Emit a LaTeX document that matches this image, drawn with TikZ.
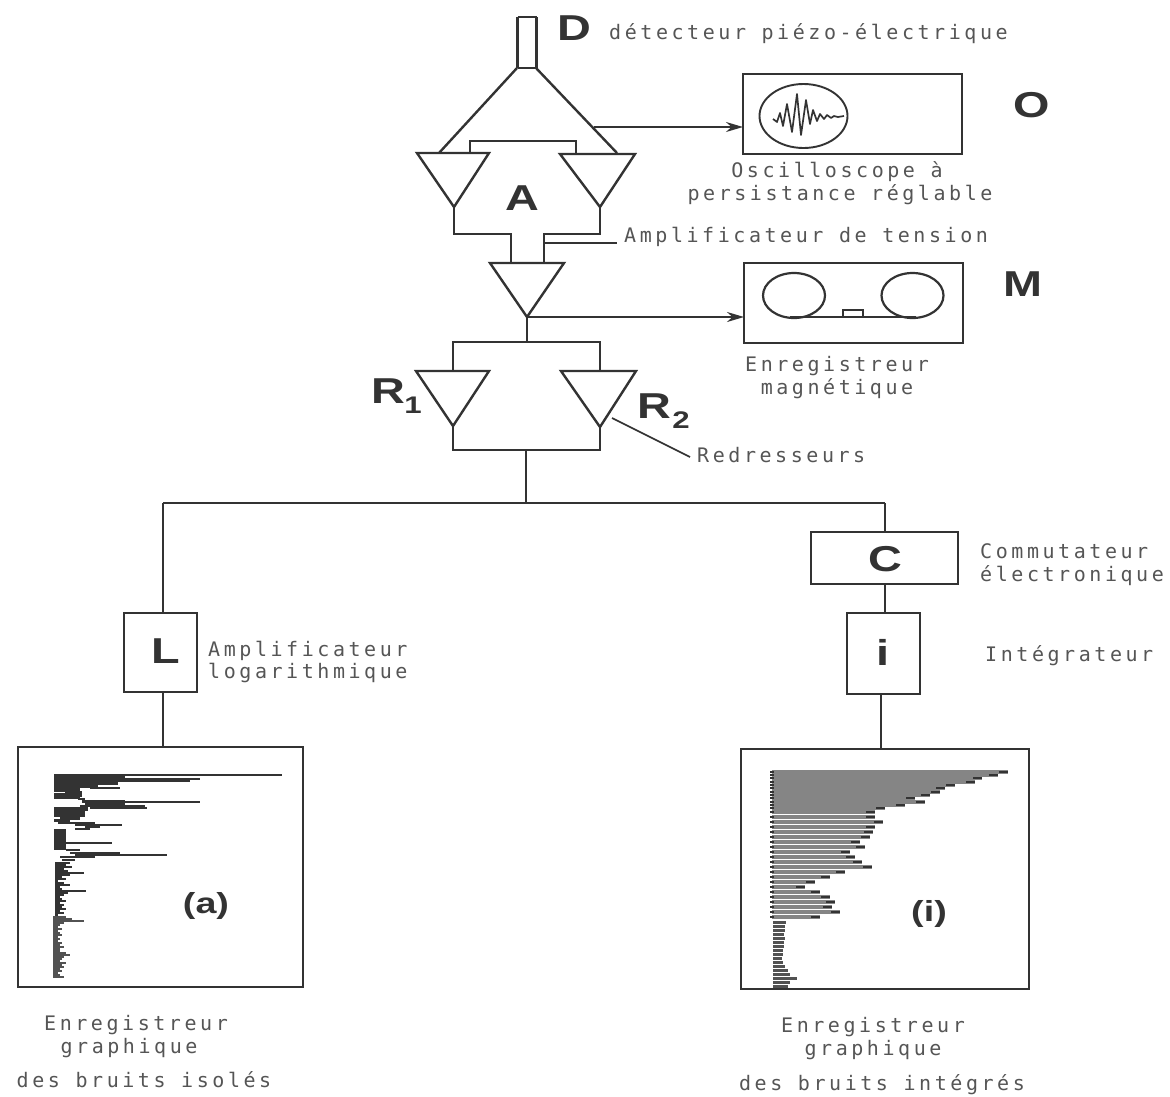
\documentclass[tikz,border=0pt]{standalone}
\usepackage{fontspec}
\usetikzlibrary{arrows.meta}
\newfontfamily\lblfont[LetterSpace=17.8]{DejaVu Sans Mono}
\newfontfamily\bigfont[FakeStretch=1.3,BoldFont={Liberation Sans Bold}]{Liberation Sans Bold}
\definecolor{ink}{HTML}{333333}
\definecolor{txt}{HTML}{555555}
\definecolor{barg}{HTML}{858585}
\tikzset{
  wire/.style={draw=ink,line width=2.4pt,line join=miter},
  thinw/.style={draw=ink,line width=1.7pt},
  arrowwire/.style={draw=ink,line width=2pt,-{Stealth[length=17pt,width=10pt]}},
  lbl/.style={text=txt,inner sep=0pt,font=\lblfont\fontsize{20}{22}\selectfont},
  big/.style={text=ink,inner sep=0pt,font=\bigfont\fontsize{#1}{#1}\selectfont},
  framebox/.style={draw=ink,line width=2.5pt,inner sep=0pt,outer sep=0pt,anchor=north west},
}
\begin{document}
\begin{tikzpicture}[x=1pt,y=-1pt]
\useasboundingbox (0,0) rectangle (1170,1096);
% --- junction coordinates
\coordinate (dl) at (517,68); \coordinate (dr) at (536,68);
\coordinate (t1a) at (417,153); \coordinate (t1b) at (489,153); \coordinate (t1c) at (454,207);
\coordinate (t2a) at (560,154); \coordinate (t2b) at (635,154); \coordinate (t2c) at (600,207);
\coordinate (t3a) at (490,263); \coordinate (t3b) at (564,263); \coordinate (t3c) at (527,317);
\coordinate (r1a) at (416,371); \coordinate (r1b) at (489,371); \coordinate (r1c) at (453,426);
\coordinate (r2a) at (561,371); \coordinate (r2b) at (636,371); \coordinate (r2c) at (600,427);
\coordinate (busmid) at (526,450);
\coordinate (bustop) at (526,503);
\coordinate (busl) at (163,503);
\coordinate (busr) at (885,503);
\coordinate (tap) at (594,127);
\coordinate (ampl) at (545,243);
\coordinate (ampr) at (617,243);
\coordinate (redra) at (612,418);
\coordinate (redrb) at (690,457);
% --- boxes
\node[framebox,minimum width=219pt,minimum height=80pt] (osc) at (743,74) {};
\node[framebox,minimum width=219pt,minimum height=80pt] (mag) at (744,263) {};
\node[framebox,minimum width=147pt,minimum height=52pt] (cbox) at (811,532) {};
\node[framebox,minimum width=73pt,minimum height=79pt] (lbox) at (124,613) {};
\node[framebox,minimum width=73pt,minimum height=81pt] (ibox) at (847,613) {};
\node[framebox,line width=2.9pt,minimum width=285pt,minimum height=240pt] (ploa) at (18,747) {};
\node[framebox,line width=2.9pt,minimum width=288pt,minimum height=240pt] (ploi) at (741,749) {};
% --- detector
\node[inner sep=0pt,outer sep=0pt,minimum width=19pt,minimum height=51pt,anchor=north] (det) at (527,17) {};
\draw[draw=ink,line width=3.4pt] (det.north west) -- (det.south west);
\draw[draw=ink,line width=3.4pt] (det.north east) -- (det.south east);
\draw[draw=ink,line width=1.6pt] (det.north west) -- (det.north east);
\draw[draw=ink,line width=2pt] (det.south west) -- (det.south east);
\draw[wire] (dl) -- (439,153);
\draw[wire] (dr) -- (617,153);
% --- triangles
\draw[wire] (t1a) -- (t1b) -- (t1c) -- cycle;
\draw[wire] (t2a) -- (t2b) -- (t2c) -- cycle;
\draw[wire] (t3a) -- (t3b) -- (t3c) -- cycle;
\draw[wire] (r1a) -- (r1b) -- (r1c) -- cycle;
\draw[wire] (r2a) -- (r2b) -- (r2c) -- cycle;
% --- wiring
\draw[wire] (470,153) |- (576,141) -- (576,154);
\draw[wire] (t1c) |- (511,234) -- (511,263);
\draw[wire] (t2c) |- (544,234) -- (544,263);
\draw[thinw] (ampl) -- (ampr);
\draw[arrowwire] (tap) -- (osc.west |- tap);
\draw[arrowwire] (t3c) -- (mag.west |- t3c);
\draw[wire] (t3c) -- (527,342);
\draw[wire] (r1a -| r1c) |- (527,342) -| (r2a -| r2c);
\draw[wire] (r1c) |- (busmid) -| (r2c);
\draw[wire] (busmid) -- (bustop);
\draw[wire] (busl) -- (busr);
\draw[wire] (busr) -- (cbox.north -| busr);
\draw[wire] (busl) -- (lbox.north -| busl);
\draw[wire] (cbox.south -| busr) -- (ibox.north -| busr);
\draw[wire] (lbox.south -| busl) -- (ploa.north -| busl);
\draw[wire] (ibox.south -| 881,0) -- (ploi.north -| 881,0);
\draw[thinw] (redra) -- (redrb);
% --- oscilloscope screen
\draw[draw=ink,line width=1.9pt] (803.5,116) ellipse [x radius=44,y radius=32];
\draw[draw=ink,line width=1.7pt,line join=round] (773,119) -- (777,122) -- (780,113) -- (783,126) -- (787,104) -- (792,132) -- (797,94) -- (801,135) -- (806,100) -- (810,124) -- (813,110) -- (817,121) -- (820,114) -- (824,119) -- (827,115) -- (831,118) -- (834,116) -- (838,117) -- (844,116);
% --- tape recorder
\draw[draw=ink,line width=2.2pt] (794,295.5) ellipse [x radius=31,y radius=22.5];
\draw[draw=ink,line width=2.2pt] (912.5,295.5) ellipse [x radius=31,y radius=22.5];
\draw[draw=ink,line width=2.2pt] (790,317) -- (916,317);
\draw[draw=ink,line width=1.6pt] (843,317) |- (863,310) -- (863,317);
% --- plot (a)
\foreach \y/\xs/\xe/\w in {775/54/282/2.5,777/54/125/3,779/54/200/2,781/54/190/2.5,783/54/118/3,785/54/98/3,787/54/97/2,788/90/120/2,790/54/80/3.4,793/65/82/3.4,795/54/82/3.4,797/54/80/3.4,799/78/85/2,801/82/125/2,802/82/200/2,804/85/125/3,806/80/145/2,808/90/147/2,809/54/88/3.4,812/54/85/3.4,815/54/85/3.4,818/60/80/3,820/54/70/3,823/58/95/2.6,825/75/122/2,827/85/100/2,829/75/90/2,831/54/66/3.2,834/54/66/3.2,837/54/66/3.2,840/54/66/3.2,843/54/112/2,845/54/66/3.2,848/54/66/3.2,850/66/80/1.5,853/70/120/1.5,855/75/167/2,857/60/95/2.4,860/62/75/2.4}
  \draw[draw=ink,line width=\w pt] (\xs,\y) -- (\xe,\y);
\foreach \y/\xe in {863/70,865/66,867/72,869/64,871/68,873/84,875/70,877/62,879/66,881/58,883/64,885/70,887/60,889/62,891/86,893/68,895/64,897/60,899/62,901/66,903/60,905/64,907/62,909/66,911/60,913/64,915/58}
  \draw[draw=ink,line width=2.1pt] (55,\y) -- (\xe,\y);
\foreach \y/\xe in {917/66,919/72,921/84,923/64,925/60,927/58,929/62,931/58,933/60,935/62,937/58,939/60,941/58,943/62,945/60,947/64,949/60,951/60,953/66,955/70,957/64,959/62,961/60,963/66,965/62,967/64,969/60,971/62,973/58,975/60,977/64}
  \draw[draw=ink!85,line width=2pt] (53,\y) -- (\xe,\y);
% --- plot (i)
\foreach \y/\xe in {772/1008,775/998,778/982,782/975,785/955,788/945,792/940,795/930,798/915,802/925,805/905,808/885,812/875,817/875,822/883,827/875,832/873,837/870,842/860,847/865,852/850,857/855,862/862,867/872,872/845,877/830,882/815,887/805,892/820,897/830,902/835,907/832,912/840,917/820}{
  \draw[draw=barg,line width=3.8pt] (772,\y) -- (\xe,\y);
  \draw[draw=ink,line width=2.8pt] (\xe-9,\y) -- (\xe,\y);
  \draw[draw=ink,line width=2.8pt] (770,\y) -- (774,\y);
}
\foreach \y/\xe in {922/786,926/785,930/785,934/784,938/785,942/784,946/784,950/783,954/783,958/782,962/783,966/785,970/788,974/790,978/797,982/790,986/788}
  \draw[draw=ink!85,line width=3pt] (773,\y) -- (\xe,\y);
% --- bold labels
\node[big=36,anchor=base] (lD) at (574,40) {D};
\node[big=36,anchor=base] (lO) at (1032,117) {O};
\node[big=36,anchor=base] (lM) at (1023,296) {M};
\node[big=36,anchor=base] (lA) at (522,210) {A};
\node[big=36,anchor=base] (lR1) at (388,403) {R};
\node[big=24,anchor=base] (lR1s) at (413,413) {1};
\node[big=36,anchor=base] (lR2) at (654,418) {R};
\node[big=24,anchor=base] (lR2s) at (681,428) {2};
\node[big=36,anchor=base] (lC) at (885,571) {C};
\node[big=36,anchor=base] (lL) at (166,663) {L};
\node[big=36,anchor=base] (li) at (883,665) {i};
\node[big=29,anchor=base] (la) at (206,913) {(a)};
\node[big=29,anchor=base] (lii) at (929,921) {(i)};
% --- text labels
\node[lbl,anchor=base west] (t1) at (609,39) {détecteur piézo-électrique};
\node[lbl,anchor=base] (t2) at (837,177) {Oscilloscope à};
\node[lbl,anchor=base] (t3) at (840,200) {persistance réglable};
\node[lbl,anchor=base west] (t4) at (624,242) {Amplificateur de tension};
\node[lbl,anchor=base] (t5) at (837,371) {Enregistreur};
\node[lbl,anchor=base] (t6) at (837,394) {magnétique};
\node[lbl,anchor=base west] (t7) at (697,462) {Redresseurs};
\node[lbl,anchor=base west] (t8) at (980,558) {Commutateur};
\node[lbl,anchor=base west] (t9) at (980,581) {électronique};
\node[lbl,anchor=base west] (t10) at (208,656) {Amplificateur};
\node[lbl,anchor=base west] (t11) at (208,678) {logarithmique};
\node[lbl,anchor=base west] (t12) at (985,661) {Intégrateur};
\node[lbl,anchor=base] (t13) at (136,1030) {Enregistreur};
\node[lbl,anchor=base] (t14) at (129,1053) {graphique};
\node[lbl,anchor=base] (t15) at (144,1087) {des bruits isolés};
\node[lbl,anchor=base] (t16) at (873,1032) {Enregistreur};
\node[lbl,anchor=base] (t17) at (873,1055) {graphique};
\node[lbl,anchor=base] (t18) at (882,1090) {des bruits intégrés};
\end{tikzpicture}
\end{document}
